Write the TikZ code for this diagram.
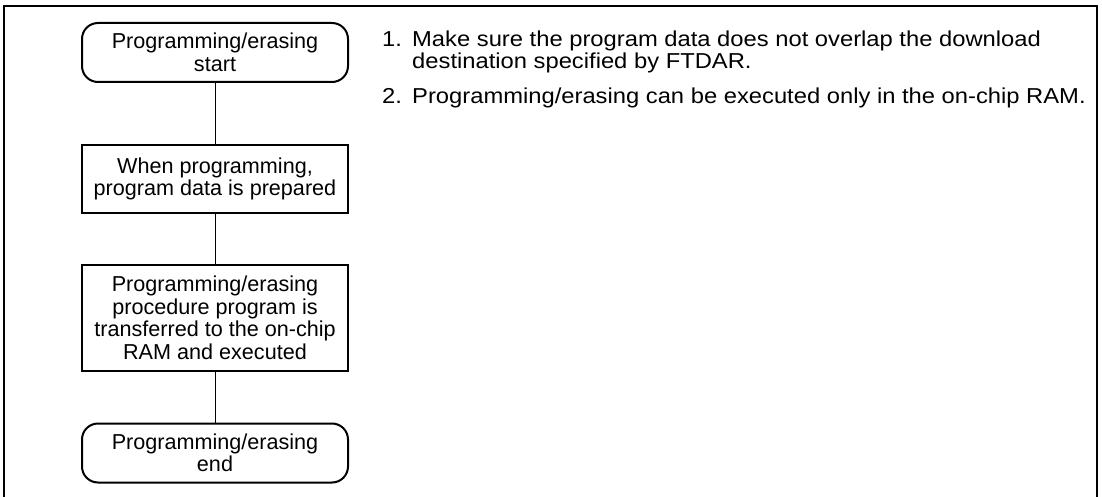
\documentclass[tikz,border=0pt]{standalone}
\usepackage{fontspec}
\setmainfont{Liberation Sans}
\newfontfamily\notefont[FakeStretch=1.1]{Liberation Sans}
\begin{document}
\begin{tikzpicture}[x=1pt,y=-1pt,
  every node/.style={font=\fontsize{21.6}{22.5}\selectfont},
  term/.style={draw,line width=2pt,rounded corners=16pt,minimum width=266pt,minimum height=59pt,align=center,inner sep=0pt},
  proc/.style={draw,line width=2pt,minimum width=266pt,align=center,inner sep=0pt},
  conn/.style={line width=1pt},
  note/.style={anchor=base west,inner sep=0pt,font=\notefont\fontsize{21.6}{22.5}\selectfont}]
\useasboundingbox (0,0) rectangle (1102,497);
\draw[line width=2.5pt] (4,497) -- (4,6) -- (1097,6) -- (1097,497);
\node[term] (s) at (215,52.5) {Programming/erasing\\start};
\node[proc,minimum height=68pt] (p1) at (215,179) {When programming,\\program data is prepared};
\node[proc,minimum height=106pt] (p2) at (215,318) {Programming/erasing\\procedure program is\\transferred to the on-chip\\RAM and executed};
\node[term] (e) at (215,453) {Programming/erasing\\end};
\draw[conn] (s) -- (p1);
\draw[conn] (p1) -- (p2);
\draw[conn] (p2) -- (e);
\node[note] (n1) at (382,47) {1.};
\node[note] (t1) at (412,47) {Make sure the program data does not overlap the download};
\node[note] (t1b) at (412,69) {destination specified by FTDAR.};
\node[note] (n2) at (382,104) {2.};
\node[note] (t2) at (412,104) {Programming/erasing can be executed only in the on-chip RAM.};
\end{tikzpicture}
\end{document}
